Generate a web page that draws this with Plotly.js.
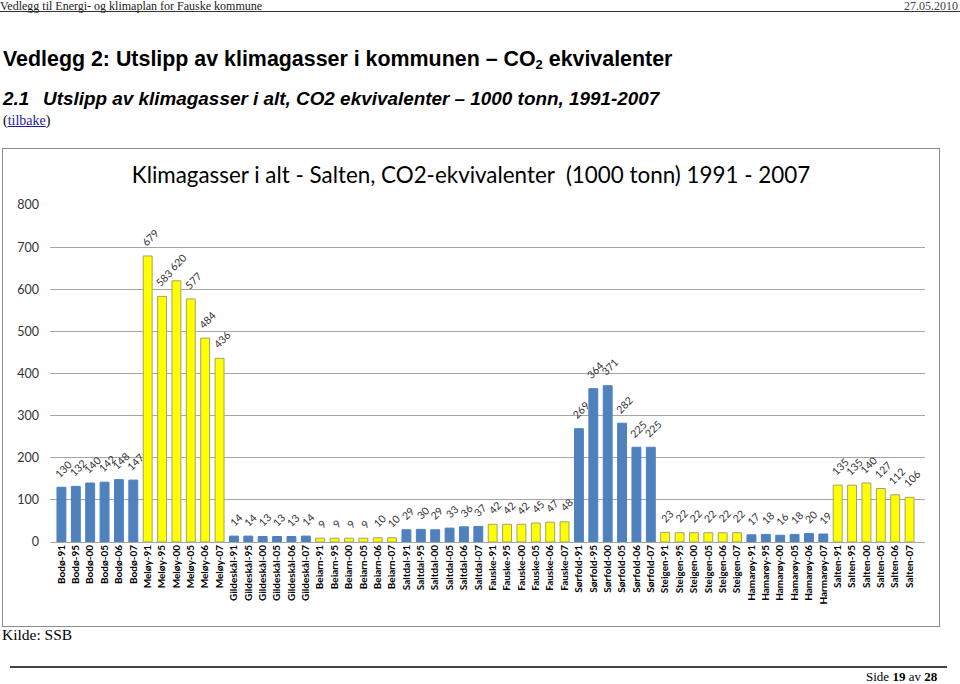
<!DOCTYPE html>
<html><head><meta charset="utf-8">
<script src="https://cdn.plot.ly/plotly-3.0.1.min.js"></script>
<style>
body{margin:0;width:960px;height:684px;position:relative;background:#fff;overflow:hidden;font-family:"Liberation Serif",serif;color:#000}
.abs{position:absolute;white-space:nowrap}
#hdr{left:0;top:0px;font-size:12px;line-height:12px;color:#222}
#date{right:2px;top:0px;font-size:12px;line-height:12px;color:#444}
#hline{left:0;top:11px;width:960px;height:1px;background:#333}
#h1{left:3px;top:47px;font-family:"Liberation Sans",Arial,sans-serif;font-weight:bold;font-size:21.4px;line-height:24px}
#h1 sub{font-size:13px;vertical-align:-3px;line-height:0}
#h2{left:3px;top:88px;font-family:"Liberation Sans",Arial,sans-serif;font-weight:bold;font-style:italic;font-size:18.9px;line-height:22px}
#h2 .n{position:absolute;left:0}
#h2 .t{position:relative;left:40px}
#back{left:3px;top:113px;font-size:14px}
#back a{color:#1a1aa6;text-decoration:underline}
#chart{position:absolute;left:2px;top:148px;width:936px;height:477px;border:1px solid #8c8c8c}
#kilde{left:2px;top:626px;font-size:15.5px}
#bline{left:10px;top:666px;width:937px;height:2px;background:#444}
#side{left:866px;top:670px;font-size:13px;line-height:14px}
</style></head>
<body>
<div class="abs" id="hdr">Vedlegg til Energi- og klimaplan for Fauske kommune</div>
<div class="abs" id="date">27.05.2010</div>
<div class="abs" id="hline"></div>
<div class="abs" id="h1">Vedlegg 2: Utslipp av klimagasser i kommunen – CO<sub>2</sub> ekvivalenter</div>
<div class="abs" id="h2"><span class="n">2.1</span><span class="t">Utslipp av klimagasser i alt, CO2 ekvivalenter – 1000 tonn, 1991-2007</span></div>
<div class="abs" id="back">(<a>tilbake</a>)</div>
<div id="chart"></div>
<div class="abs" id="kilde">Kilde: SSB</div>
<div class="abs" id="bline"></div>
<div class="abs" id="side">Side <b>19</b> av <b>28</b></div>
<script>
const categories = [
 "Bodø-91","Bodø-95","Bodø-00","Bodø-05","Bodø-06","Bodø-07",
 "Meløy-91","Meløy-95","Meløy-00","Meløy-05","Meløy-06","Meløy-07",
 "Gildeskål-91","Gildeskål-95","Gildeskål-00","Gildeskål-05","Gildeskål-06","Gildeskål-07",
 "Beiarn-91","Beiarn-95","Beiarn-00","Beiarn-05","Beiarn-06","Beiarn-07",
 "Saltdal-91","Saltdal-95","Saltdal-00","Saltdal-05","Saltdal-06","Saltdal-07",
 "Fauske-91","Fauske-95","Fauske-00","Fauske-05","Fauske-06","Fauske-07",
 "Sørfold-91","Sørfold-95","Sørfold-00","Sørfold-05","Sørfold-06","Sørfold-07",
 "Steigen-91","Steigen-95","Steigen-00","Steigen-05","Steigen-06","Steigen-07",
 "Hamarøy-91","Hamarøy-95","Hamarøy-00","Hamarøy-05","Hamarøy-06","Harmarøy-07",
 "Salten-91","Salten-95","Salten-00","Salten-05","Salten-06","Salten-07"
];
const values = [
 130,132,140,142,148,147,
 679,583,620,577,484,436,
 14,14,13,13,13,14,
 9,9,9,9,10,10,
 29,30,29,33,36,37,
 42,42,42,45,47,48,
 269,364,371,282,225,225,
 23,22,22,22,22,22,
 17,18,16,18,20,19,
 135,135,140,127,112,106
];
const yTicks = [0,100,200,300,400,500,600,700,800];

const BLUE = "#4f81bd", YELLOW = "#ffff00";
const colors = categories.map((c,i)=> (Math.floor(i/6)%2===0) ? BLUE : YELLOW);
const lineColors = categories.map((c,i)=> (Math.floor(i/6)%2===0) ? BLUE : "#a3a36a");

const trace = {
  type:"bar", x:categories, y:values,
  marker:{color:colors, line:{color:lineColors, width:1}},
  hoverinfo:"x+y"
};
const annotations = categories.map((c,i)=>({
  x:c, y:values[i], xref:"x", yref:"y", text:String(values[i]),
  showarrow:false, textangle:-45, xanchor:"center", yanchor:"bottom",
  xshift:2, yshift:5, font:{family:"Lato, 'Open Sans', sans-serif", size:10.5, color:"#333"}
}));
const layout = {
  width:936, height:477,
  margin:{l:47,r:14,t:56,b:84},
  paper_bgcolor:"#fff", plot_bgcolor:"#fff",
  bargap:0.38,
  showlegend:false,
  title:{text:"Klimagasser i alt - Salten, CO2-ekvivalenter  (1000 tonn) 1991 - 2007",
         font:{family:"Lato, 'Open Sans', sans-serif", size:22.4, color:"#000"},
         x:0.5, xanchor:"center", y:0.945, yanchor:"middle"},
  xaxis:{type:"category", tickangle:-90, tickfont:{family:"Lato, sans-serif", size:10, color:"#000", weight:"bold"},
         showgrid:false, showline:false, ticks:"", automargin:false},
  yaxis:{range:[0,800], tickvals:yTicks, ticktext:yTicks.map(String),
         tickfont:{family:"Lato, 'Open Sans', sans-serif", size:12.5, color:"#333"},
         showgrid:true, gridcolor:"#a6a6a6", gridwidth:1, zeroline:true, zerolinecolor:"#a6a6a6",
         showline:false, ticks:"", ticklabelstandoff:10, automargin:false},
  annotations:annotations
};
Plotly.newPlot("chart",[trace],layout,{displayModeBar:false,staticPlot:true});
</script>
</body></html>
